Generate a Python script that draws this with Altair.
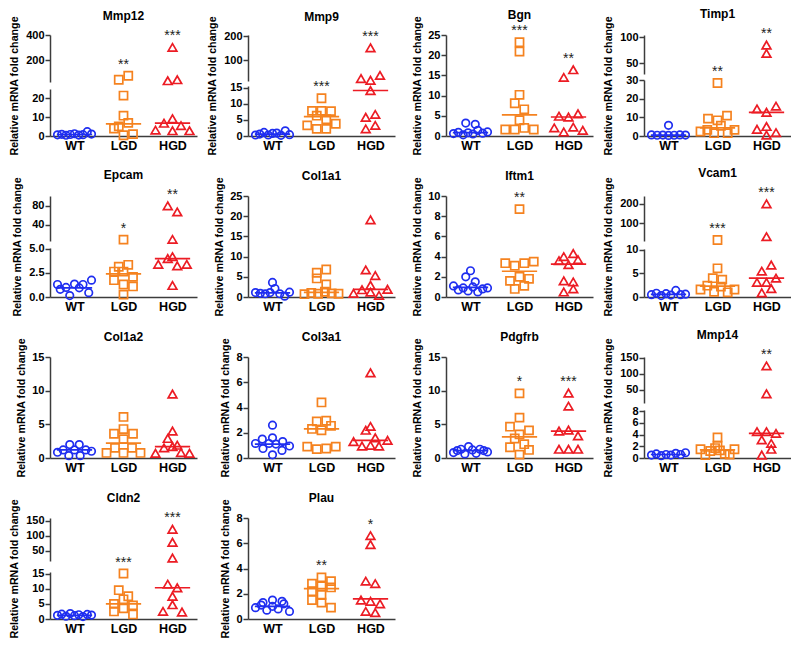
import altair as alt
import pandas as pd

GROUPS = ["WT", "LGD", "HGD"]
COLORS = ["#1f2ef0", "#f5821f", "#ec1c24"]
SHAPES = ["circle", "square", "triangle-up"]
SIZES = [56, 76, 88]
YTITLE = "Relative mRNA fold change"
FONT = "Liberation Sans"
AXIS_COLOR = "#3c3c3c"

# ---------------- data (values listed roughly left-to-right as drawn) ----------------
MMP12_WT = [0.6, 0.9, 0.4, 0.8, 1.2, 0.5, 0.7, 2.3, 1.0]
MMP12_LGD = [4.0, 43, 21.5, 10.8, 5.1, 0.4, 75, 7.0, 1.0]
MMP12_HGD = [3.1, 6.8, 35, 2.8, 9.2, 301, 43, 5.5, 2.8]
MMP12_MED = [0.8, 6.5, 6.8]
MMP12_SIG = ["", "**", "***"]

MMP9_WT = [0.3, 0.6, 1.1, 0.3, 0.8, 0.9, 0.2, 1.6, 0.4]
MMP9_LGD = [3.3, 6.3, 7.8, 2.2, 11.7, 5.2, 7.8, 2.2, 7.7, 3.8]
MMP9_HGD = [25, 5.8, 152, 18, 14.1, 2.2, 6.7, 38, 3.3]
MMP9_MED = [0.6, 6.0, 14.1]
MMP9_SIG = ["", "***", "***"]

BGN_WT = [0.6, 0.9, 0.3, 0.8, 3.2, 0.5, 2.9, 1.4, 0.7, 1.0]
BGN_LGD = [1.6, 8.1, 3.9, 23.2, 20.9, 10.2, 1.6, 6.6, 2.0, 1.6]
BGN_HGD = [4.9, 2.0, 14.5, 1.0, 4.7, 2.2, 16.4, 1.4, 5.5]
BGN_MED = [0.85, 5.25, 4.7]
BGN_SIG = ["", "***", "**"]

TIMP1_WT = [0.6, 0.4, 0.5, 0.3, 5.7, 0.4, 0.6, 0.5]
TIMP1_LGD = [2.4, 9.3, 3.3, 1.5, 5.5, 8.4, 28.4, 1.5, 10.9, 3.3]
TIMP1_HGD = [14.5, 3.6, 69, 0.5, 12.7, 5.1, 85, 1.8, 16]
TIMP1_MED = [0.5, 4.3, 12.7]
TIMP1_SIG = ["", "**", "**"]

EPCAM_WT = [1.3, 0.8, 1.0, 1.35, 1.3, 0.15, 0.95, 1.75, 0.45]
EPCAM_LGD = [3.15, 1.75, 0.25, 2.65, 8, 1.3, 2.65, 1.1, 2.1, 3.35]
EPCAM_HGD = [3.4, 80, 4.0, 3.25, 8.5, 1.2, 67, 4.2, 3.4]
EPCAM_MED = [0.95, 2.4, 4.0]
EPCAM_SIG = ["", "*", "**"]

COL1A1_WT = [1.1, 0.9, 0.8, 1.1, 3.6, 2.1, 0.8, 0.2, 1.2]
COL1A1_LGD = [0.7, 1.0, 6.0, 4.6, 0.8, 6.8, 3.1, 1.3, 0.9, 0.8]
COL1A1_HGD = [0.9, 1.8, 6.7, 19.1, 1.2, 0.4, 5.3, 2.9, 1.9]
COL1A1_MED = [1.0, 1.15, 1.9]
COL1A1_SIG = ["", "", ""]

IFTM1_WT = [1.1, 0.7, 0.9, 2.0, 0.6, 2.6, 1.0, 0.5, 1.5, 0.8, 0.9]
IFTM1_LGD = [3.35, 1.6, 3.1, 2.0, 8.7, 0.8, 3.35, 1.8, 1.1, 3.5]
IFTM1_HGD = [4.0, 3.6, 1.6, 0.5, 4.3, 3.2, 1.5, 0.8, 3.7]
IFTM1_MED = [0.95, 2.55, 3.25]
IFTM1_SIG = ["", "**", ""]

VCAM1_WT = [0.5, 0.8, 0.3, 0.7, 0.4, 1.4, 0.5, 0.6]
VCAM1_LGD = [1.6, 2.4, 4.0, 1.1, 15, 6.1, 2.2, 3.7, 1.0, 1.6]
VCAM1_HGD = [3.1, 5.5, 0.9, 200, 32, 6.8, 3.1, 4.0, 1.8]
VCAM1_MED = [0.55, 2.3, 4.0]
VCAM1_SIG = ["", "***", "***"]

COL1A2_WT = [0.85, 1.2, 2.0, 0.35, 1.2, 2.0, 0.35, 1.2, 1.0]
COL1A2_LGD = [3.6, 0.75, 1.5, 6.1, 4.3, 2.8, 0.75, 1.5, 3.6, 0.75]
COL1A2_HGD = [4.0, 0.7, 1.5, 9.5, 1.7, 0.8, 2.9, 0.7, 1.9]
COL1A2_MED = [1.2, 2.2, 1.7]
COL1A2_SIG = ["", "", ""]

COL3A1_WT = [1.15, 0.75, 1.5, 1.15, 0.25, 2.6, 1.6, 1.1, 0.6, 1.3, 0.95]
COL3A1_LGD = [0.9, 2.9, 2.3, 0.7, 4.4, 2.95, 2.2, 0.75, 2.55, 0.9]
COL3A1_HGD = [1.3, 2.5, 0.95, 6.75, 1.0, 2.2, 0.95, 1.6, 1.4]
COL3A1_MED = [1.1, 2.3, 1.4]
COL3A1_SIG = ["", "", ""]

PDGFRB_WT = [0.8, 1.1, 1.3, 0.6, 1.7, 1.2, 0.7, 1.3, 1.1, 0.9]
PDGFRB_LGD = [4.65, 1.6, 2.9, 9.6, 6.0, 3.5, 0.5, 2.05, 4.1, 1.2]
PDGFRB_HGD = [1.3, 4.0, 9.65, 7.7, 1.3, 4.15, 3.3, 1.3]
PDGFRB_MED = [1.1, 3.15, 4.0]
PDGFRB_SIG = ["", "*", "***"]

MMP14_WT = [0.5, 0.7, 0.4, 0.6, 0.5, 0.8, 0.6, 0.9]
MMP14_LGD = [1.5, 0.5, 1.2, 1.7, 1.3, 3.5, 0.7, 2.1, 0.6, 1.5]
MMP14_HGD = [3.1, 4.5, 0.5, 125, 37, 2.5, 4.5, 1.5, 4.2]
MMP14_MED = [0.6, 1.4, 4.2]
MMP14_SIG = ["", "", "**"]

CLDN2_WT = [1.2, 1.6, 0.9, 1.8, 1.1, 1.4, 0.8, 1.5, 1.3]
CLDN2_LGD = [9.5, 2.5, 15, 5, 3.5, 1.5, 6.5, 7.5, 4.5]
CLDN2_HGD = [2.5, 11.5, 122, 78, 25, 7.5, 4.7, 2.3, 10.3]
CLDN2_MED = [1.2, 5.0, 10.3]
CLDN2_SIG = ["", "***", "***"]

PLAU_WT = [1.3, 0.9, 1.1, 0.7, 1.5, 1.0, 0.8, 1.2, 0.6, 1.4]
PLAU_LGD = [2.2, 3.3, 2.8, 1.9, 2.6, 1.5, 3.0, 1.3, 0.9, 2.5]
PLAU_HGD = [1.5, 6.6, 3.0, 0.6, 5.9, 1.4, 2.8, 0.5, 1.2]
PLAU_MED = [1.0, 2.4, 1.6]
PLAU_SIG = ["", "**", "*"]

# ---------------- axis segments (domains and tick labels) ----------------
def ax(low, low_ticks, high=None, high_ticks=None, low_fmt="d"):
    return {"low": low, "low_ticks": low_ticks, "high": high, "high_ticks": high_ticks, "low_fmt": low_fmt}

MMP12_AX = ax([0, 25], [0, 10, 20], [25, 400], [200, 400])
MMP9_AX = ax([0, 15.5], [0, 5, 10, 15], [15, 205], [100, 200])
BGN_AX = ax([0, 25], [0, 5, 10, 15, 20, 25])
TIMP1_AX = ax([0, 30], [0, 10, 20, 30], [30, 104], [50, 100])
EPCAM_AX = ax([0, 5.1], [0, 2.5, 5.0], [5, 101], [40, 80], low_fmt=".1f")
COL1A1_AX = ax([0, 25], [0, 5, 10, 15, 20, 25])
IFTM1_AX = ax([0, 10], [0, 2, 4, 6, 8, 10])
VCAM1_AX = ax([0, 10.2], [0, 5, 10], [10, 240], [100, 200])
COL1A2_AX = ax([0, 15], [0, 5, 10, 15])
COL3A1_AX = ax([0, 8], [0, 2, 4, 6, 8])
PDGFRB_AX = ax([0, 15], [0, 5, 10, 15])
MMP14_AX = ax([0, 8.2], [0, 2, 4, 6, 8], [8, 153], [50, 100, 150])
CLDN2_AX = ax([0, 15.5], [0, 5, 10, 15], [15, 160], [50, 100, 150])
PLAU_AX = ax([0, 8], [0, 2, 4, 6, 8])

PANELS = [
    ("Mmp12", [MMP12_WT, MMP12_LGD, MMP12_HGD], MMP12_MED, MMP12_SIG, MMP12_AX),
    ("Mmp9", [MMP9_WT, MMP9_LGD, MMP9_HGD], MMP9_MED, MMP9_SIG, MMP9_AX),
    ("Bgn", [BGN_WT, BGN_LGD, BGN_HGD], BGN_MED, BGN_SIG, BGN_AX),
    ("Timp1", [TIMP1_WT, TIMP1_LGD, TIMP1_HGD], TIMP1_MED, TIMP1_SIG, TIMP1_AX),
    ("Epcam", [EPCAM_WT, EPCAM_LGD, EPCAM_HGD], EPCAM_MED, EPCAM_SIG, EPCAM_AX),
    ("Col1a1", [COL1A1_WT, COL1A1_LGD, COL1A1_HGD], COL1A1_MED, COL1A1_SIG, COL1A1_AX),
    ("Iftm1", [IFTM1_WT, IFTM1_LGD, IFTM1_HGD], IFTM1_MED, IFTM1_SIG, IFTM1_AX),
    ("Vcam1", [VCAM1_WT, VCAM1_LGD, VCAM1_HGD], VCAM1_MED, VCAM1_SIG, VCAM1_AX),
    ("Col1a2", [COL1A2_WT, COL1A2_LGD, COL1A2_HGD], COL1A2_MED, COL1A2_SIG, COL1A2_AX),
    ("Col3a1", [COL3A1_WT, COL3A1_LGD, COL3A1_HGD], COL3A1_MED, COL3A1_SIG, COL3A1_AX),
    ("Pdgfrb", [PDGFRB_WT, PDGFRB_LGD, PDGFRB_HGD], PDGFRB_MED, PDGFRB_SIG, PDGFRB_AX),
    ("Mmp14", [MMP14_WT, MMP14_LGD, MMP14_HGD], MMP14_MED, MMP14_SIG, MMP14_AX),
    ("Cldn2", [CLDN2_WT, CLDN2_LGD, CLDN2_HGD], CLDN2_MED, CLDN2_SIG, CLDN2_AX),
    ("Plau", [PLAU_WT, PLAU_LGD, PLAU_HGD], PLAU_MED, PLAU_SIG, PLAU_AX),
]

# ---------------- layout ----------------
W, H = 147, 101
STEP = W / 3.0
HALF_MED = 0.36
LABEL_SIZE, TICK_SIZE, LABEL_PAD = 11, 5, 1
# (upper height, gap, lower height) for panels with a broken axis
SEGMENTS = {
    "Mmp12": (47, 7, 47), "Mmp9": (46, 5, 50), "Timp1": (39, 6, 56),
    "Epcam": (45, 7, 49), "Vcam1": (45, 8, 48), "Mmp14": (46, 7, 48),
    "Cldn2": (43, 11, 47),
}
BIN_PX, DOT_PX, MAX_PX = 8.0, 9.5, 34.0


def to_px(v, a, seg):
    if a["high"] is None:
        lo, hi = a["low"]
        return (v - lo) / (hi - lo) * H
    ht, gp, hb = seg
    if v <= a["low"][1]:
        return v / a["low"][1] * hb
    lo2, hi2 = a["high"]
    return hb + gp + (v - lo2) / (hi2 - lo2) * ht


def spread_offsets(px):
    n = len(px)
    order = sorted(range(n), key=lambda i: px[i])
    clusters, cur = [], [order[0]]
    for i in order[1:]:
        if px[i] - px[cur[0]] < BIN_PX:
            cur.append(i)
        else:
            clusters.append(cur)
            cur = [i]
    clusters.append(cur)
    off = [0.0] * n
    for c in clusters:
        c = sorted(c)
        k = len(c)
        if k > 1:
            sp = min(DOT_PX, MAX_PX / (k - 1))
            for j, i in enumerate(c):
                off[i] = (j - (k - 1) / 2.0) * sp
    return off


def seg_of(v, a):
    return "low" if (a["high"] is None or v <= a["low"][1]) else "high"


def label_extent(ticks, fmt):
    # approximate width of the widest bold tick label plus tick and padding
    width = 0.0
    for t in ticks:
        s = format(t, ".1f") if fmt == ".1f" else str(int(t))
        w = sum(0.278 if ch == "." else 0.556 for ch in s) * LABEL_SIZE
        width = max(width, w)
    return width + TICK_SIZE + LABEL_PAD + 1


LABEL_EXPR = "[" + ",".join("'%s'" % g for g in GROUPS) + "][datum.value]"
color_enc = alt.Color("group:N", scale=alt.Scale(domain=GROUPS, range=COLORS), legend=None)
shape_enc = alt.Shape("group:N", scale=alt.Scale(domain=GROUPS, range=SHAPES), legend=None)
size_enc = alt.Size("group:N", scale=alt.Scale(domain=GROUPS, range=SIZES), legend=None)
XSCALE = alt.Scale(domain=[-0.5, 2.5], nice=False, zero=False)


def make_layer(pts, med, stars, dom, ticks, fmt, ytitle, title_y, min_ext, show_x, height):
    axis_kw = dict(values=ticks, format=fmt, title=ytitle)
    if title_y is not None:
        axis_kw["titleY"] = title_y
    if min_ext is not None:
        axis_kw["minExtent"] = min_ext
    yenc = alt.Y("y:Q", scale=alt.Scale(domain=dom, nice=False, zero=False), axis=alt.Axis(**axis_kw))
    if show_x:
        xaxis = alt.Axis(values=[0, 1, 2], labelExpr=LABEL_EXPR, title=None, ticks=False, labelFlush=False)
    else:
        xaxis = None
    layers = []
    if len(pts):
        layers.append(
            alt.Chart(pts).mark_point(filled=False, strokeWidth=1.7, opacity=1).encode(
                x=alt.X("x:Q", scale=XSCALE, axis=xaxis), y=yenc,
                color=color_enc, shape=shape_enc, size=size_enc)
        )
    if len(med):
        layers.append(
            alt.Chart(med).mark_rule(strokeWidth=1.7).encode(
                x=alt.X("xa:Q", scale=XSCALE, axis=xaxis), x2="xb:Q", y=yenc, color=color_enc)
        )
    if len(stars):
        layers.append(
            alt.Chart(stars).mark_text(baseline="middle", dy=-11, fontSize=14, font=FONT, color="#222222").encode(
                x=alt.X("x:Q", scale=XSCALE, axis=xaxis), y=yenc, text="sig:N")
        )
    return alt.layer(*layers).properties(width=W, height=height)


def build_panel(gene, vals, meds, sigs, a):
    seg = SEGMENTS.get(gene)
    rows = []
    for gi, (g, arr) in enumerate(zip(GROUPS, vals)):
        px = [to_px(v, a, seg) for v in arr]
        offs = spread_offsets(px)
        for v, o in zip(arr, offs):
            rows.append({"group": g, "y": v, "x": gi + o / STEP, "seg": seg_of(v, a)})
    pts = pd.DataFrame(rows)
    med = pd.DataFrame({"group": GROUPS, "y": meds,
                        "xa": [gi - HALF_MED for gi in range(3)],
                        "xb": [gi + HALF_MED for gi in range(3)]})
    med["seg"] = [seg_of(v, a) for v in meds]
    srows = []
    for gi, (g, s) in enumerate(zip(GROUPS, sigs)):
        if s:
            m = max(vals[gi])
            srows.append({"group": g, "sig": s, "x": gi, "y": m, "seg": seg_of(m, a)})
    stars = pd.DataFrame(srows, columns=["group", "sig", "x", "y", "seg"])

    def title(off):
        return alt.TitleParams(gene, font=FONT, fontSize=12, fontWeight="bold", color="black",
                               frame="group", offset=off)

    def sub(df, s):
        return df[df["seg"] == s].drop(columns=["seg"])

    if a["high"] is None:
        return make_layer(sub(pts, "low"), sub(med, "low"), sub(stars, "low"),
                          a["low"], a["low_ticks"], a["low_fmt"], YTITLE, None, None, True, H
                          ).properties(title=title(-6))
    ht, gp, hb = seg
    ext = max(label_extent(a["high_ticks"], "d"), label_extent(a["low_ticks"], a["low_fmt"]))
    top = make_layer(sub(pts, "high"), sub(med, "high"), sub(stars, "high"),
                     a["high"], a["high_ticks"], "d", None, None, None, False, ht).properties(title=title(6))
    bot = make_layer(sub(pts, "low"), sub(med, "low"), sub(stars, "low"),
                     a["low"], a["low_ticks"], a["low_fmt"], YTITLE, (hb - ht - gp) / 2.0, ext, True, hb)
    return alt.vconcat(top, bot, spacing=gp, bounds="flush")


panels = [build_panel(*p) for p in PANELS]

chart = alt.concat(*panels, columns=4, bounds="flush", spacing={"row": 60, "column": 51}).properties(
    padding={"left": 0, "top": 0, "right": 0, "bottom": 0}
).configure_view(stroke=None).configure_axis(
    grid=False, domainColor=AXIS_COLOR, domainWidth=1.5, tickColor=AXIS_COLOR, tickWidth=1.5,
    labelFont=FONT, titleFont=FONT, labelColor="black", titleColor="black",
    labelFontWeight="bold", titleFontWeight="bold",
).configure_axisY(
    labelFontSize=LABEL_SIZE, tickSize=TICK_SIZE, labelPadding=LABEL_PAD, titleFontSize=10.7, titlePadding=5,
).configure_axisX(
    labelFontSize=12.5, labelPadding=3,
)

chart.save("out.html", embed_options={"renderer": "svg", "actions": False})
